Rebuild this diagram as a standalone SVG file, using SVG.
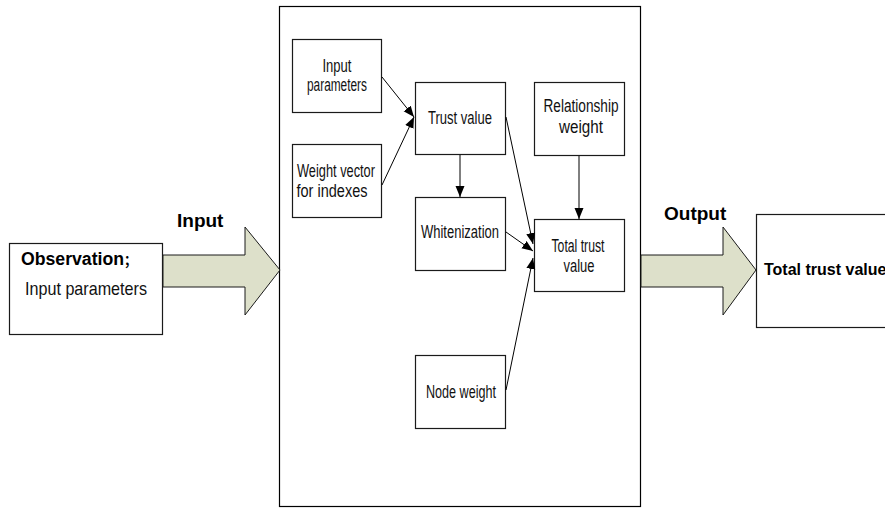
<svg xmlns="http://www.w3.org/2000/svg" width="885" height="509" viewBox="0 0 885 509">
<defs>
<marker id="ah" markerUnits="userSpaceOnUse" markerWidth="12" markerHeight="10" refX="11" refY="4.5" orient="auto">
<path d="M0,0 L11,4.5 L0,9 z" fill="#000"/>
</marker>
<style>
.box{fill:#fff;stroke:#1a1a1a;stroke-width:1.2}
.big{fill:#dde0ca;stroke:#1a1a1a;stroke-width:1}
.t{font-family:"Liberation Sans",Arial,sans-serif;font-size:17.5px;fill:#111;text-anchor:middle}
.b{font-family:"Liberation Sans","Noto Sans CJK SC",Arial,sans-serif;font-weight:bold;fill:#000}
.c{stroke:#000;stroke-width:1;fill:none;marker-end:url(#ah)}
</style>
</defs>
<rect width="885" height="509" fill="#fff"/>
<g id="container"><rect x="279.5" y="6.5" width="361" height="500" fill="#fff" stroke="#000" stroke-width="1.2"/></g>
<g id="observation">
<rect class="box" x="9.5" y="243.5" width="153" height="91"/>
<text class="b" transform="translate(21,265) scale(0.93,1)" x="0" y="0" font-size="19">Observation<tspan font-size="14">；</tspan></text>
<text x="25" y="295" font-family="'Liberation Sans',Arial,sans-serif" font-size="19" fill="#111" textLength="122" lengthAdjust="spacingAndGlyphs">Input parameters</text>
</g>
<g id="input-arrow">
<path class="big" d="M163,255 L245,255 L245,227 L280,270 L245,315 L245,287 L163,287 z"/>
<text class="b" x="177" y="227" font-size="19">Input</text>
</g>
<g id="output-arrow">
<path class="big" d="M641,255 L723,255 L723,227 L756,270 L723,315 L723,287 L641,287 z"/>
<text class="b" x="664" y="220" font-size="19">Output</text>
</g>
<g id="output-box">
<rect class="box" x="756.5" y="214.5" width="140" height="113"/>
<text class="b" x="764" y="275" font-size="16">Total trust value</text>
</g>
<g id="input-parameters">
<rect class="box" x="292.5" y="39.5" width="89" height="73"/>
<text class="t" x="337" y="72" textLength="29" lengthAdjust="spacingAndGlyphs">Input</text>
<text class="t" x="337" y="91" textLength="60" lengthAdjust="spacingAndGlyphs">parameters</text>
</g>
<g id="weight-vector">
<rect class="box" x="292.5" y="144.5" width="89" height="73"/>
<text class="t" x="336" y="177" textLength="78" lengthAdjust="spacingAndGlyphs">Weight vector</text>
<text class="t" x="332" y="197" textLength="71" lengthAdjust="spacingAndGlyphs">for indexes</text>
</g>
<g id="trust-value">
<rect class="box" x="415.5" y="82.5" width="90" height="72"/>
<text class="t" x="460" y="124" textLength="64" lengthAdjust="spacingAndGlyphs">Trust value</text>
</g>
<g id="whitenization">
<rect class="box" x="415.5" y="197.5" width="90" height="73"/>
<text class="t" x="460" y="238" textLength="78" lengthAdjust="spacingAndGlyphs">Whitenization</text>
</g>
<g id="relationship-weight">
<rect class="box" x="534.5" y="82.5" width="90" height="73"/>
<text class="t" x="581" y="112" textLength="75" lengthAdjust="spacingAndGlyphs">Relationship</text>
<text class="t" x="581" y="133" textLength="44" lengthAdjust="spacingAndGlyphs">weight</text>
</g>
<g id="total-trust-value">
<rect class="box" x="534.5" y="219.5" width="90" height="72"/>
<text class="t" x="578" y="252" textLength="53" lengthAdjust="spacingAndGlyphs">Total trust</text>
<text class="t" x="579" y="272" textLength="31" lengthAdjust="spacingAndGlyphs">value</text>
</g>
<g id="node-weight">
<rect class="box" x="415.5" y="355.5" width="90" height="73"/>
<text class="t" x="461" y="398" textLength="70" lengthAdjust="spacingAndGlyphs">Node weight</text>
</g>
<g id="connectors">
<line class="c" x1="382" y1="77" x2="414" y2="117"/>
<line class="c" x1="382" y1="185" x2="414" y2="117"/>
<line class="c" x1="460" y1="155" x2="460" y2="197"/>
<line class="c" x1="506" y1="117" x2="533" y2="244"/>
<line class="c" x1="506" y1="232" x2="533" y2="251"/>
<line class="c" x1="506" y1="390" x2="533" y2="258"/>
<line class="c" x1="579" y1="156" x2="579" y2="219"/>
</g>
</svg>
